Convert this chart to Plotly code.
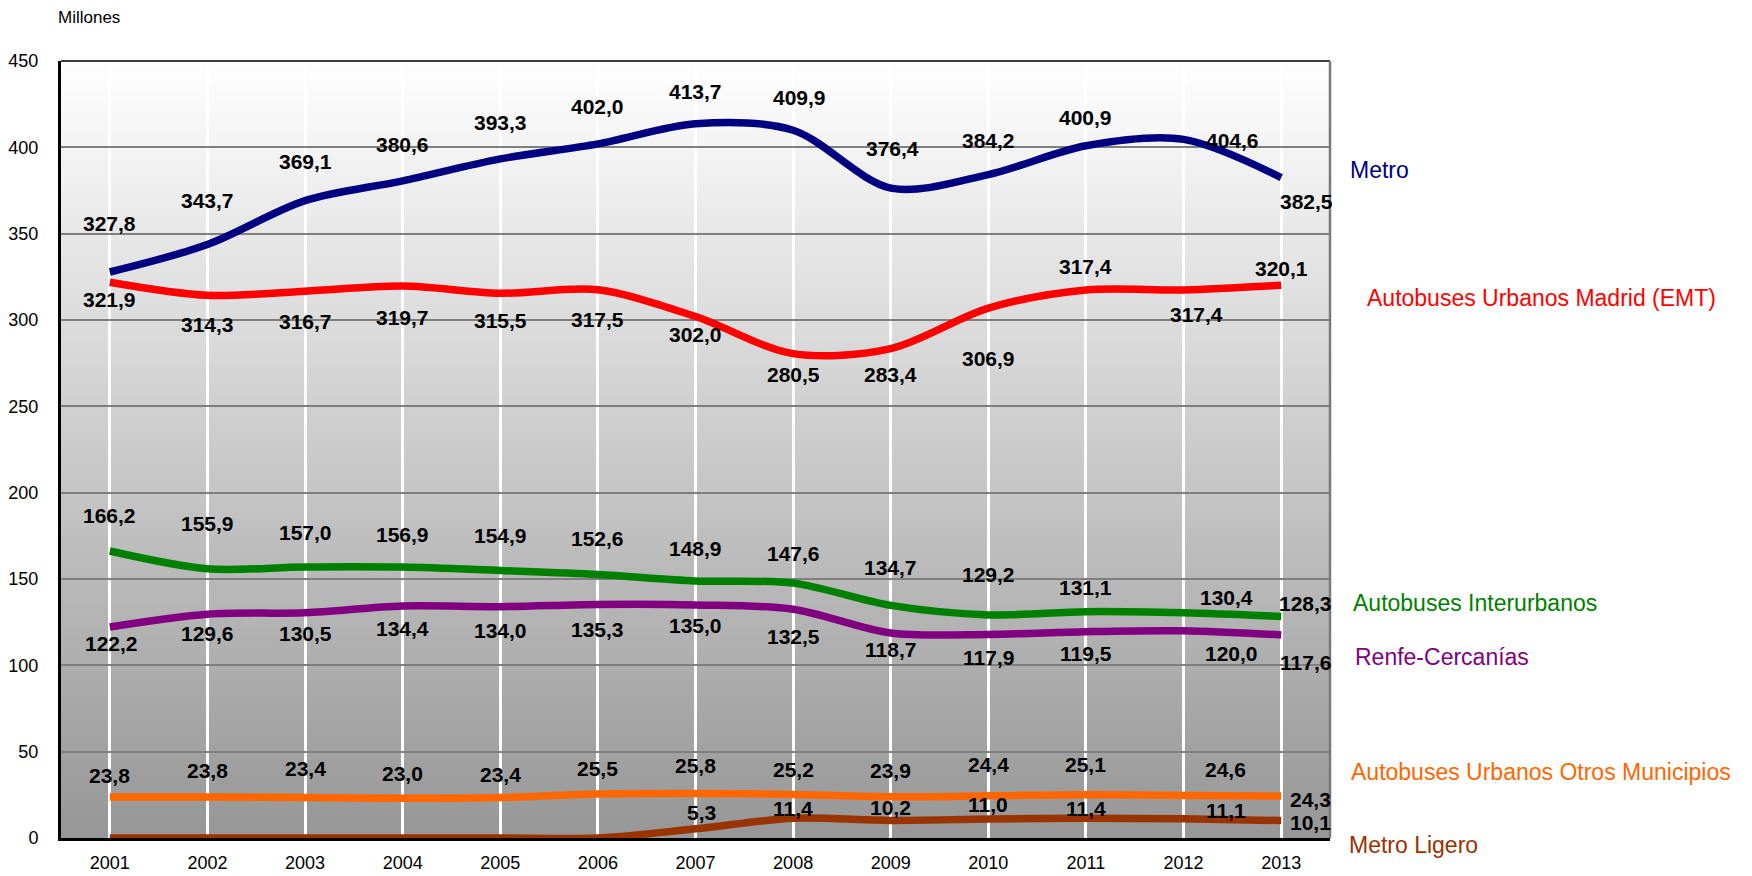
import plotly.graph_objects as go

# ---------------- data ----------------
years = [2001, 2002, 2003, 2004, 2005, 2006, 2007, 2008, 2009, 2010, 2011, 2012, 2013]
y_ticks = [0, 50, 100, 150, 200, 250, 300, 350, 400, 450]

metro = [327.8, 343.7, 369.1, 380.6, 393.3, 402.0, 413.7, 409.9, 376.4, 384.2, 400.9, 404.6, 382.5]
emt = [321.9, 314.3, 316.7, 319.7, 315.5, 317.5, 302.0, 280.5, 283.4, 306.9, 317.4, 317.4, 320.1]
interurbanos = [166.2, 155.9, 157.0, 156.9, 154.9, 152.6, 148.9, 147.6, 134.7, 129.2, 131.1, 130.4, 128.3]
renfe = [122.2, 129.6, 130.5, 134.4, 134.0, 135.3, 135.0, 132.5, 118.7, 117.9, 119.5, 120.0, 117.6]
otros = [23.8, 23.8, 23.4, 23.0, 23.4, 25.5, 25.8, 25.2, 23.9, 24.4, 25.1, 24.6, 24.3]
ligero = [0, 0, 0, 0, 0, 0, 5.3, 11.4, 10.2, 11.0, 11.4, 11.1, 10.1]
ligero_labeled = [False, False, False, False, False, False, True, True, True, True, True, True, True]

names = ["Metro", "Autobuses Urbanos Madrid (EMT)", "Autobuses Interurbanos",
         "Renfe-Cercanías", "Autobuses Urbanos Otros Municipios", "Metro Ligero"]
unit_label = "Millones"

# ---------------- styles / layout ----------------
colors = ["#000080", "#FF0000", "#008000", "#800080", "#FF6600", "#993300"]

# label offsets in pixels (dx right, dy down) per point
label_offsets = [
    [(0, -49), (0, -44), (0, -39), (0, -36), (0, -36), (0, -37), (0, -32), (6, -33), (2, -40), (0, -34), (0, -28), (49, 1), (25, 24)],
    [(0, 17), (0, 29), (0, 30), (0, 32), (0, 27), (0, 30), (0, 18), (0, 21), (0, 26), (0, 50), (0, -23), (13, 25), (0, -17)],
    [(0, -36), (0, -45), (0, -34), (0, -33), (0, -35), (0, -36), (0, -32), (0, -30), (0, -38), (0, -40), (0, -24), (43, -15), (24, -13)],
    [(2, 16), (0, 19), (0, 21), (0, 23), (0, 24), (0, 25), (0, 21), (0, 27), (0, 16), (0, 23), (0, 22), (48, 23), (24, 28)],
    [(0, -21), (0, -26), (0, -29), (0, -25), (0, -23), (0, -25), (0, -28), (0, -25), (0, -26), (0, -31), (0, -30), (42, -26), (29, 3)],
    [(0, 0)] * 6 + [(6, -16), (0, -10), (0, -13), (0, -15), (0, -10), (42, -8), (29, 2)],
]

# right-side series labels: (left px, center y px)
name_pos = [(1348, 170), (1365, 298), (1351, 603), (1353, 657), (1349, 772), (1347, 845)]

W, H = 1752, 876
PL, PR, PT, PB = 61, 1330, 61, 838
pw, ph = PR - PL, PB - PT

SANS = "Liberation Sans, Arial, sans-serif"

fig = go.Figure()

all_series = [metro, emt, interurbanos, renfe, otros, ligero]
for name, vals, col in zip(names, all_series, colors):
    fig.add_trace(go.Scatter(
        x=years, y=vals, mode="lines", name=name,
        line=dict(color=col, width=7.5, shape="spline", smoothing=0.9),
        hoverinfo="x+y+name",
    ))

# data labels
annotations = []
for si, vals in enumerate(all_series):
    for i, (yr, v) in enumerate(zip(years, vals)):
        if si == 5 and not ligero_labeled[i]:
            continue
        dx, dy = label_offsets[si][i]
        annotations.append(dict(
            x=yr, y=v, xref="x", yref="y", showarrow=False,
            text=f"{v:.1f}".replace(".", ","),
            xshift=dx, yshift=-dy,
            font=dict(family=SANS, size=21, color="#000000", weight="bold"),
        ))

# series names on right
for name, col, (px, py) in zip(names, colors, name_pos):
    annotations.append(dict(
        x=(px - PL) / pw, y=(PB - py) / ph, xref="paper", yref="paper",
        xanchor="left", yanchor="middle", showarrow=False, text=name,
        font=dict(family=SANS, size=23, color=col),
    ))

annotations.append(dict(
    x=(56 - PL) / pw, y=(PB - 18) / ph, xref="paper", yref="paper",
    xanchor="left", yanchor="middle", showarrow=False, text=unit_label,
    font=dict(family=SANS, size=17, color="#000000"),
))

# gradient background bands
shapes = []
N = 100
for k in range(N):
    y0 = k / N
    y1 = (k + 1) / N
    t = (k + 0.5) / N  # 0 bottom, 1 top
    g = int(round(150 + (255 - 150) * t))
    shapes.append(dict(type="rect", xref="x domain", yref="y domain",
                       x0=0, x1=1, y0=y0, y1=y1 + 0.002, layer="below",
                       line=dict(width=0), fillcolor=f"rgb({g},{g},{g})"))
# borders
shapes.append(dict(type="line", xref="paper", yref="paper", x0=0, x1=1, y0=1, y1=1,
                   line=dict(color="#404040", width=2), layer="above"))
shapes.append(dict(type="line", xref="paper", yref="paper", x0=1, x1=1, y0=0, y1=1,
                   line=dict(color="#7a7a7a", width=2.5), layer="above"))

fig.update_layout(
    width=W, height=H,
    margin=dict(l=PL, r=W - PR, t=PT, b=H - PB, pad=0),
    paper_bgcolor="#FFFFFF", plot_bgcolor="#FFFFFF",
    showlegend=False,
    annotations=annotations,
    shapes=shapes,
    font=dict(family=SANS, color="#000000"),
)
fig.update_xaxes(
    range=[2000.5, 2013.5], tickvals=years, ticktext=[str(y) for y in years],
    showgrid=True, gridcolor="#FFFFFF", gridwidth=2.5,
    showline=True, linecolor="#000000", linewidth=3,
    ticks="", tickfont=dict(family=SANS, size=18, color="#000000"),
    ticklabelstandoff=6, zeroline=False, automargin=False,
    layer="below traces",
)
fig.update_yaxes(
    range=[0, 450], tickvals=y_ticks,
    showgrid=True, gridcolor="#7f7f7f", gridwidth=2,
    showline=True, linecolor="#000000", linewidth=3,
    ticks="", tickfont=dict(family=SANS, size=18, color="#000000"),
    ticklabelstandoff=16, zeroline=False, automargin=False,
)

fig.write_html("out.html", config={"displayModeBar": False},
               post_script="document.body.style.margin='0';document.body.style.padding='0';document.body.style.overflow='hidden';")
